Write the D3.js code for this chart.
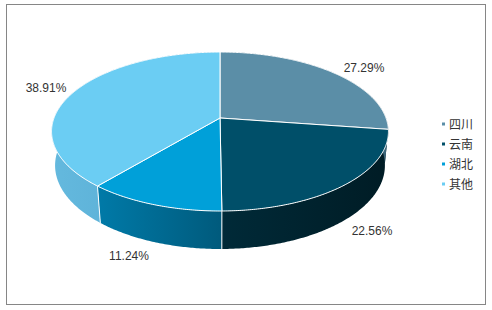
<!DOCTYPE html>
<html>
<head>
<meta charset="utf-8">
<script src="https://cdn.jsdelivr.net/npm/d3@7"></script>
<style>
  body { margin: 0; background: #fff; }
  svg { display: block; font-family: "Liberation Sans", Arial, sans-serif; }
</style>
</head>
<body>
<div id="chart"></div>
<script>
const categories = ["四川", "云南", "湖北", "其他"];
const values = [27.29, 22.56, 11.24, 38.91];
const labels = ["27.29%", "22.56%", "11.24%", "38.91%"];

const topColors = ["#5b8ea7", "#004f69", "#00a0d9", "#6bcdf3"];
const wallColors = [["#4a7a90", "#3b6478"], ["#002a38", "#001c25"], ["#007aa8", "#005a7c"], ["#64b9de", "#52a6ce"]];

const width = 492, height = 310;

const svg = d3.select("#chart").append("svg")
  .attr("width", width)
  .attr("height", height);

// frame
svg.append("rect")
  .attr("x", 6.5).attr("y", 4.5)
  .attr("width", 479).attr("height", 300)
  .attr("fill", "none")
  .attr("stroke", "#868686");

// simple camera for the tilted disc
const cx = 220, cy = 118;
const alpha = Math.asin(0.465);
const L = Math.cos(alpha) / 0.17;
const F = 166 * L;
const H = 0.233;

function project(theta, z) {
  const X = Math.sin(theta), Y = Math.cos(theta);
  const yc = Y * Math.sin(alpha) + z * Math.cos(alpha);
  const zc = Y * Math.cos(alpha) + L - z * Math.sin(alpha);
  return [cx + F * X / zc, cy - F * yc / zc];
}

function rim(a0, a1, z) {
  const n = Math.max(2, Math.ceil(Math.abs(a1 - a0) / 0.01));
  return d3.range(n + 1).map(i => project(a0 + (a1 - a0) * i / n, z));
}

const pie = d3.pie().sort(null).value(d => d)(values);
const slices = pie.map((p, i) => ({ ...p, i }));

const defs = svg.append("defs");
slices.forEach(s => {
  const g = defs.append("linearGradient")
    .attr("id", "wall" + s.i)
    .attr("x1", "0%").attr("x2", "100%")
    .attr("y1", "0%").attr("y2", "0%");
  g.append("stop").attr("offset", "0%").attr("stop-color", wallColors[s.i][0]);
  g.append("stop").attr("offset", "100%").attr("stop-color", wallColors[s.i][1]);
});

const line = d3.line();

// walls, far ones first
const wallOrder = slices.slice().sort((a, b) =>
  Math.cos((b.startAngle + b.endAngle) / 2) - Math.cos((a.startAngle + a.endAngle) / 2)).reverse();

svg.append("g").selectAll("path")
  .data(wallOrder)
  .join("path")
  .attr("d", s => line(rim(s.startAngle, s.endAngle, 0).concat(rim(s.endAngle, s.startAngle, -H))) + "Z")
  .attr("fill", s => `url(#wall${s.i})`);

// white edges between walls on the front side
const edgeAngles = slices.map(s => s.startAngle)
  .filter(a => Math.cos(a) < -0.2);
svg.append("g").selectAll("line")
  .data(edgeAngles)
  .join("line")
  .attr("x1", a => project(a, 0)[0]).attr("y1", a => project(a, 0)[1])
  .attr("x2", a => project(a, -H)[0]).attr("y2", a => project(a, -H)[1])
  .attr("stroke", "#fff")
  .attr("stroke-width", 1);

// top faces
svg.append("g").selectAll("path")
  .data(slices)
  .join("path")
  .attr("d", s => line([[cx, cy]].concat(rim(s.startAngle, s.endAngle, 0))) + "Z")
  .attr("fill", s => topColors[s.i])
  .attr("stroke", "#fff")
  .attr("stroke-width", 1)
  .attr("stroke-linejoin", "round");

// data labels
const labelPos = [[364, 72], [372, 235], [129, 260], [46, 92]];
svg.append("g").selectAll("text")
  .data(slices)
  .join("text")
  .attr("x", s => labelPos[s.i][0])
  .attr("y", s => labelPos[s.i][1])
  .attr("text-anchor", "middle")
  .attr("font-size", 12)
  .attr("fill", "#333")
  .text(s => labels[s.i]);

// legend
const legend = svg.append("g").attr("transform", "translate(442, 124)");
const rows = legend.selectAll("g")
  .data(categories)
  .join("g")
  .attr("transform", (d, i) => `translate(0, ${i * 20})`);
rows.append("rect")
  .attr("x", 0).attr("y", -1.5)
  .attr("width", 3).attr("height", 3)
  .attr("fill", (d, i) => topColors[i]);
rows.append("text")
  .attr("x", 7)
  .attr("y", 4.5)
  .attr("font-size", 12)
  .attr("font-family", "'Noto Sans CJK SC', sans-serif")
  .attr("fill", "#333")
  .text(d => d);
</script>
</body>
</html>
